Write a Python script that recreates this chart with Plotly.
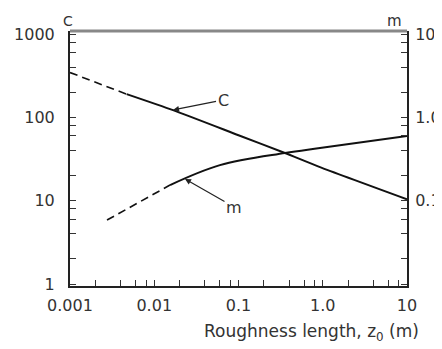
import plotly.graph_objects as go

# Data
z0_C = [0.001, 0.0047, 0.0167, 0.1, 0.356, 0.927, 10]
C_vals = [345, 190, 122, 61, 37.3, 25.3, 10.4]
C_dash_end = 0.0047

z0_m = [0.00275, 0.0154, 0.0602, 0.356, 0.927, 10]
m_vals = [0.0585, 0.154, 0.267, 0.373, 0.428, 0.597]
m_dash_end = 0.0154

x_major = [0.001, 0.01, 0.1, 1, 10]
x_major_text = ["0.001", "0.01", "0.1", "1.0", "10"]
yC_major = [1, 10, 100, 1000]
yC_major_text = ["1", "10", "100", "1000"]
ym_major = [0.01, 0.1, 1, 10]
ym_major_text = ["", "0.1", "1.0", "10"]


def with_minor(majors, texts):
    vals, labs = [], []
    for v, t in zip(majors, texts):
        vals.append(v)
        labs.append(t)
        if v != majors[-1]:
            for k in (2, 4, 6, 8):
                vals.append(v * k)
                labs.append("")
    return vals, labs


def split(xs, ys, xend):
    dx = [x for x in xs if x <= xend]
    dy = ys[:len(dx)]
    sx = xs[len(dx) - 1:]
    sy = ys[len(dx) - 1:]
    return dx, dy, sx, sy


fig = go.Figure()
LINE = "#111111"

cdx, cdy, csx, csy = split(z0_C, C_vals, C_dash_end)
mdx, mdy, msx, msy = split(z0_m, m_vals, m_dash_end)

fig.add_trace(go.Scatter(x=cdx, y=cdy, mode="lines", line=dict(color=LINE, width=1.6, dash="8px,5px"), showlegend=False))
fig.add_trace(go.Scatter(x=csx, y=csy, mode="lines", line=dict(color=LINE, width=2, shape="spline", smoothing=0.6), showlegend=False))
fig.add_trace(go.Scatter(x=mdx, y=mdy, mode="lines", yaxis="y2", line=dict(color=LINE, width=1.6, dash="8px,5px"), showlegend=False))
fig.add_trace(go.Scatter(x=msx, y=msy, mode="lines", yaxis="y2", line=dict(color=LINE, width=2, shape="spline", smoothing=1.0), showlegend=False))

xv, xt = with_minor(x_major, x_major_text)
yv, yt = with_minor(yC_major, yC_major_text)
y2v, y2t = with_minor(ym_major, ym_major_text)

FAM = "DejaVu Sans, Liberation Sans, Arial, sans-serif"
FONT = dict(family=FAM, size=16, color="#333333")

axis_common = dict(type="log", ticks="inside", ticklen=6, tickcolor="#333", tickwidth=1.3,
                   showline=True, linecolor="#222", linewidth=2, showgrid=False, zeroline=False)

# page has an 8px body margin, so the figure is sized/offset to compensate
fig.update_layout(
    width=434, height=341,
    margin=dict(l=62, r=35, t=23, b=63, autoexpand=False),
    paper_bgcolor="white", plot_bgcolor="white",
    font=FONT,
    xaxis=dict(range=[-3, 1], tickvals=xv, ticktext=xt, ticklabelstandoff=4, **axis_common),
    yaxis=dict(range=[-0.024, 3.036], tickvals=yv, ticktext=yt, ticklabelstandoff=10, **axis_common),
    yaxis2=dict(range=[-2.024, 1.036], tickvals=y2v, ticktext=y2t, overlaying="y", side="right",
                ticklabelstandoff=3, **axis_common),
)

fig.add_shape(type="line", xref="paper", yref="paper", x0=0, x1=1, y0=1, y1=1,
              line=dict(color="#888888", width=3))

fig.add_annotation(x=-0.006, y=1.04, xref="paper", yref="paper", text="C", showarrow=False,
                   xanchor="center", yanchor="middle",
                   font=dict(family=FAM, size=14, color="#333"))
fig.add_annotation(x=0.964, y=1.04, xref="paper", yref="paper", text="m", showarrow=False,
                   xanchor="center", yanchor="middle",
                   font=dict(family=FAM, size=15, color="#333"))

fig.add_annotation(x=-1.777, y=2.088, xref="x", yref="y", text="C", showarrow=True,
                   ax=50, ay=-10, arrowhead=2, arrowsize=1, arrowwidth=1.2, arrowcolor="#222",
                   font=dict(family=FAM, size=16, color="#333"), standoff=0)
fig.add_annotation(x=-1.635, y=-0.74, xref="x", yref="y2", text="m", showarrow=True,
                   ax=49, ay=28, arrowhead=2, arrowsize=1, arrowwidth=1.2, arrowcolor="#222",
                   font=dict(family=FAM, size=16, color="#333"), standoff=0)

fig.add_annotation(x=(421 - 70) / 337, y=(286 - 332) / 255, xref="paper", yref="paper",
                   xanchor="right", yanchor="middle", showarrow=False,
                   text="Roughness length, z<sub>0</sub> (m)",
                   font=dict(family=FAM, size=17, color="#333"))

fig.write_html("out.html")
